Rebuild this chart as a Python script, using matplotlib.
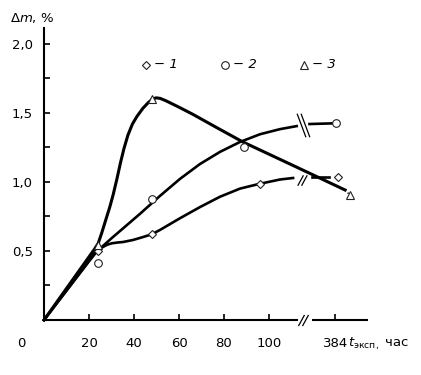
import matplotlib.pyplot as plt
from matplotlib.path import Path

# --- measured points (the 384 h points sit past the axis break) ---
t1 = [24, 48, 96, 130.5]
dm1 = [0.50, 0.62, 0.985, 1.035]
t2 = [24, 48, 89, 130]
dm2 = [0.41, 0.88, 1.25, 1.425]
t3 = [24, 48, 136]
dm3 = [0.545, 1.60, 0.905]

# --- hand-drawn trend curves ---
c1_t = [0, 23.6, 26.2, 28, 30.2, 33, 35.1, 39.6, 44, 47.9, 51.6, 56, 60.4, 69.3,
        78.2, 87.1, 95.6, 104.9, 110.7]
c1_dm = [0, 0.507, 0.529, 0.545, 0.556, 0.562, 0.565, 0.58, 0.601, 0.621, 0.653, 0.695, 0.737, 0.818,
         0.893, 0.952, 0.986, 1.018, 1.029]
c1_tail_t = [119, 126.5]
c1_tail_dm = [1.036, 1.036]

c2_t = [0, 20, 23.4, 27, 30, 36, 42.7, 51.6, 60.4, 69.3, 78.2, 87.1, 96, 104.9, 112.3]
c2_dm = [0, 0.425, 0.495, 0.548, 0.592, 0.676, 0.77, 0.9, 1.022, 1.13, 1.218, 1.29, 1.346, 1.383, 1.405]
c2_tail_t = [118, 128.5]
c2_tail_dm = [1.42, 1.425]

c3_t = [0, 22.5, 24.1, 25.6, 27.9, 29.3, 30.8, 32.4, 34, 35.5, 37.3, 39.3, 41.3, 44, 46.5, 48,
        49.8, 51.6, 54, 56, 60, 66.2, 77, 88.4, 96, 110, 122, 133.8]
c3_dm = [0, 0.515, 0.556, 0.628, 0.749, 0.822, 0.912, 1.022, 1.14, 1.24, 1.34, 1.42, 1.475, 1.535, 1.578, 1.597,
         1.61, 1.606, 1.59, 1.574, 1.542, 1.49, 1.392, 1.29, 1.232, 1.125, 1.033, 0.942]

x_ticks = [-10, 20, 40, 60, 80, 100, 129.5]
x_labels = ["0", "20", "40", "60", "80", "100", "384"]
y_ticks = [0.5, 1.0, 1.5, 2.0]
y_labels = ["0,5", "1,0", "1,5", "2,0"]
y_minor = [0.25, 0.75, 1.25, 1.75]

x_break = 114.9      # where the time axis is cut
x_resume = 119.1
x_end = 144
y_top = 2.116

plt.rcParams["font.family"] = "DejaVu Sans"
plt.rcParams["font.size"] = 9.5

fig = plt.figure(figsize=(4.21, 3.75), dpi=100)
ax = fig.add_axes([0, 0, 1, 1])
ax.set_xlim(-19.56, 167.56)
ax.set_ylim(-0.3986, 2.3188)

for s in ["top", "right"]:
    ax.spines[s].set_visible(False)
ax.spines["left"].set_position(("data", 0))
ax.spines["bottom"].set_position(("data", 0))
ax.spines["left"].set_bounds(0, y_top)
ax.spines["bottom"].set_bounds(0, x_break - 2.5)
ax.spines["left"].set_linewidth(1.5)
ax.spines["bottom"].set_linewidth(1.5)
ax.plot([x_resume, x_end], [0, 0], color="k", lw=1.5, solid_capstyle="butt")

ax.set_xticks(x_ticks)
ax.set_xticklabels(x_labels)
ax.set_yticks(y_ticks)
ax.set_yticklabels(y_labels)
ax.set_yticks(y_minor, minor=True)
ax.tick_params(axis="x", direction="in", length=4, width=1.2, pad=12)
ax.tick_params(axis="y", which="both", direction="in", length=4, width=1.2, pad=8)
ax.xaxis.get_major_ticks()[0].tick1line.set_visible(False)

# curves
lw = 1.9
ax.plot(c1_t, c1_dm, color="k", lw=lw, zorder=3)
ax.plot(c1_tail_t, c1_tail_dm, color="k", lw=lw, zorder=3)
ax.plot(c2_t, c2_dm, color="k", lw=lw, zorder=3)
ax.plot(c2_tail_t, c2_tail_dm, color="k", lw=lw, zorder=3)
ax.plot(c3_t, c3_dm, color="k", lw=2.2, zorder=4)
ax.plot([c3_t[-1], t3[-1]], [c3_dm[-1], dm3[-1]], color="k", lw=1, ls=":", zorder=4)

# markers
mk = dict(linestyle="none", markerfacecolor="white", markeredgecolor="#222222",
          markeredgewidth=0.8, zorder=5)
ax.plot(t1, dm1, marker="D", markersize=4, **mk)
ax.plot(t2, dm2, marker="o", markersize=5.5, **mk)
ax.plot(t3, dm3, marker="^", markersize=5.5, **mk)

# break marks
fwd = Path([(-5, -5.5), (1, 5.5), (-1, -5.5), (5, 5.5)],
           [Path.MOVETO, Path.LINETO, Path.MOVETO, Path.LINETO])
back = Path([(-6.5, 12), (2.5, -12), (-2.5, 12), (6.5, -12)],
            [Path.MOVETO, Path.LINETO, Path.MOVETO, Path.LINETO])
brk = dict(linestyle="none", markerfacecolor="none", markeredgecolor="k",
           markeredgewidth=0.9, zorder=6, clip_on=False)
ax.plot([x_break], [0], marker=fwd, markersize=8, **brk)
ax.plot([114.7], [1.014], marker=fwd, markersize=7.5, **brk)
ax.plot([114.9], [1.413], marker=back, markersize=17, **brk)

# legend
leg_x = [45.3, 80.4, 115.6]
leg_y = 1.848
leg_mk = ["D", "o", "^"]
leg_ms = [4, 5.5, 5.5]
leg_txt = ["\u2212 1", "\u2212 2", "\u2212 3"]
for x, m, ms, txt in zip(leg_x, leg_mk, leg_ms, leg_txt):
    ax.plot([x], [leg_y], marker=m, markersize=ms, linestyle="none",
            markerfacecolor="white", markeredgecolor="#222222", markeredgewidth=0.8)
    ax.text(x + 3.4, leg_y, txt, ha="left", va="center", style="italic")

# axis titles
ax.annotate(r"$\Delta m$, %", xy=(-5.3, 2.188), ha="center", va="center")
ax.annotate(r"$t_{\mathrm{эксп,}}$ час", xy=(135.3, 0), xytext=(0, -11.5),
            textcoords="offset points", ha="left", va="top")

fig.savefig("out.png", dpi=100)
